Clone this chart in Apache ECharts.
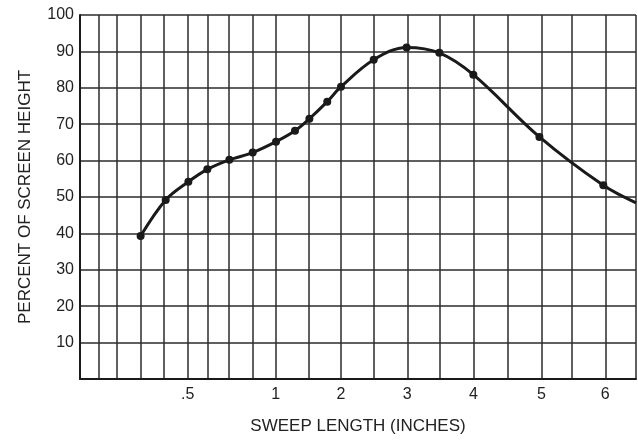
<!DOCTYPE html>
<html>
<head>
<meta charset="utf-8">
<script src="https://cdn.jsdelivr.net/npm/echarts@6/dist/echarts.min.js"></script>
<style>
  html, body { margin: 0; padding: 0; background: #fff; }
  #chart { width: 638px; height: 445px; }
</style>
</head>
<body>
<div id="chart"></div>
<script>
// The sweep scale is not linear: positions are given in chart divisions
// along the horizontal axis (0 = left edge, 25.5 = right edge).
const gridDivisions = [0, 0.87, 1.68, 2.77, 3.85, 4.94, 5.86, 6.83, 7.92, 8.98,
  10.47, 11.97, 13.48, 15.01, 16.51, 18.04, 19.6, 21.16, 22.55, 24.09, 25.5];
const sweepLabelPos = [4.94, 8.98, 11.97, 15.01, 18.04, 21.16, 24.09];
const sweepLabels = ['.5', '1', '2', '3', '4', '5', '6'];

// Measured response curve: position on sweep scale, percent of screen height
const sweepPos = [2.78, 3.93, 4.97, 5.84, 6.85, 7.92, 8.99, 9.86, 10.52, 11.34,
  11.97, 13.47, 14.98, 16.48, 18.04, 21.07, 24.0, 25.5];
const screenHeight = [39.3, 49.2, 54.2, 57.6, 60.2, 62.2, 65.2, 68.2, 71.5, 76.2,
  80.3, 87.7, 91.1, 89.6, 83.6, 66.5, 53.2, 48.4];

const yTicks = [10, 20, 30, 40, 50, 60, 70, 80, 90, 100];

const seriesData = sweepPos.map((p, i) => {
  const item = { value: [p, screenHeight[i]] };
  if (i === sweepPos.length - 1) item.symbol = 'none';
  return item;
});

const chart = echarts.init(document.getElementById('chart'), null, { renderer: 'canvas' });
const font = '"Liberation Sans", Arial, Helvetica, sans-serif';

chart.setOption({
  animation: false,
  backgroundColor: '#fff',
  grid: { left: 80, right: 2, top: 15, bottom: 66, containLabel: false },
  xAxis: {
    type: 'value',
    min: 0,
    max: 25.5,
    name: 'SWEEP LENGTH (INCHES)',
    nameLocation: 'middle',
    nameGap: 39,
    nameTextStyle: { fontFamily: font, fontSize: 17, color: '#222' },
    axisLine: { show: true, onZero: false, lineStyle: { color: '#1a1a1a', width: 2 } },
    axisTick: { show: false, customValues: gridDivisions },
    axisLabel: {
      customValues: sweepLabelPos,
      formatter: v => {
        const i = sweepLabelPos.findIndex(p => Math.abs(p - v) < 1e-6);
        return i >= 0 ? sweepLabels[i] : '';
      },
      fontFamily: font, fontSize: 16, color: '#222', margin: 8
    },
    splitLine: { show: true, lineStyle: { color: '#2b2b2b', width: 1.5 } }
  },
  yAxis: {
    type: 'value',
    min: 0,
    max: 100,
    interval: 10,
    name: 'PERCENT OF SCREEN HEIGHT',
    nameLocation: 'middle',
    nameGap: 46,
    nameRotate: 90,
    nameTextStyle: { fontFamily: font, fontSize: 17, color: '#222' },
    axisLine: { show: true, lineStyle: { color: '#1a1a1a', width: 2 } },
    axisTick: { show: false },
    axisLabel: {
      formatter: v => (yTicks.includes(v) ? String(v) : ''),
      fontFamily: font, fontSize: 16, color: '#222', margin: 6
    },
    splitLine: { show: true, lineStyle: { color: '#2b2b2b', width: 1.5 } }
  },
  series: [{
    type: 'line',
    data: seriesData,
    smooth: 0.35,
    symbol: 'circle',
    symbolSize: 8,
    itemStyle: { color: '#1a1a1a' },
    lineStyle: { color: '#1a1a1a', width: 3 },
    clip: true
  }]
});
</script>
</body>
</html>
